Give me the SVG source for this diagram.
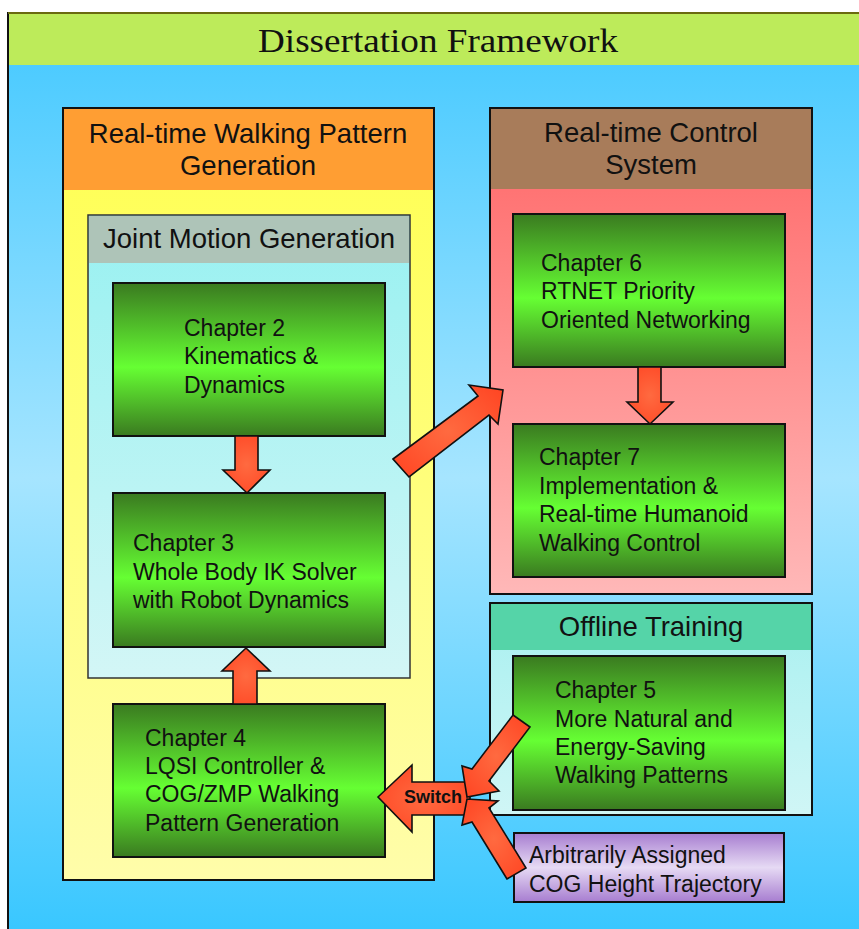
<svg xmlns="http://www.w3.org/2000/svg" width="859" height="929" viewBox="0 0 859 929">
<defs>
<linearGradient id="bg" x1="0" y1="0" x2="0" y2="1">
<stop offset="0" stop-color="#42C8FF"/>
<stop offset="0.5" stop-color="#A6E5FF"/>
<stop offset="1" stop-color="#36C6FF"/>
</linearGradient>
<linearGradient id="yel" x1="0" y1="0" x2="0" y2="1">
<stop offset="0" stop-color="#FFFF50"/>
<stop offset="1" stop-color="#FFFDAA"/>
</linearGradient>
<linearGradient id="red" x1="0" y1="0" x2="0" y2="1">
<stop offset="0" stop-color="#FF6666"/>
<stop offset="1" stop-color="#FFB8B8"/>
</linearGradient>
<linearGradient id="cyan" x1="0" y1="0" x2="0" y2="1">
<stop offset="0" stop-color="#98F1F1"/>
<stop offset="1" stop-color="#D3F6F6"/>
</linearGradient>
<linearGradient id="cyan2" x1="0" y1="0" x2="0" y2="1">
<stop offset="0" stop-color="#A8F0F0"/>
<stop offset="1" stop-color="#D0F6F6"/>
</linearGradient>
<linearGradient id="grn" x1="0" y1="0" x2="0" y2="1">
<stop offset="0" stop-color="#3A7A20"/>
<stop offset="0.55" stop-color="#66FF33"/>
<stop offset="1" stop-color="#3A7A20"/>
</linearGradient>
<linearGradient id="pur" x1="0" y1="0" x2="0" y2="1">
<stop offset="0" stop-color="#A77DD0"/>
<stop offset="0.5" stop-color="#E6DAF4"/>
<stop offset="1" stop-color="#A77DD0"/>
</linearGradient>
<radialGradient id="arr" cx="0.5" cy="0.5" r="0.7">
<stop offset="0" stop-color="#FF6A40"/>
<stop offset="1" stop-color="#FF4422"/>
</radialGradient>
<style>
.hd{font-family:"Liberation Sans",Arial,sans-serif;font-size:27.5px;fill:#111;text-anchor:middle}
.tx{font-family:"Liberation Sans",Arial,sans-serif;font-size:23px;fill:#111}
.box{stroke:#111;stroke-width:2}
.ch{fill:url(#grn);stroke:#111;stroke-width:2}
.ar{fill:url(#arr);stroke:#111;stroke-width:1.6;stroke-linejoin:miter}
</style>
</defs>
<rect x="0" y="0" width="859" height="929" fill="#fff"/>
<g id="frame">
<rect x="8" y="13" width="860" height="930" fill="url(#bg)" stroke="#111" stroke-width="2"/>
<rect x="9" y="14" width="850" height="51" fill="#BDEB5A"/>
<line x1="8" y1="13" x2="859" y2="13" stroke="#6A6A10" stroke-width="2"/>
<text x="438" y="52" font-family="'Liberation Serif',serif" font-size="34" fill="#111" text-anchor="middle" textLength="360" lengthAdjust="spacingAndGlyphs">Dissertation Framework</text>
</g>
<g id="walking-pattern">
<rect x="63" y="108" width="371" height="772" fill="url(#yel)" class="box"/>
<rect x="64" y="109" width="369" height="81" fill="#FF9E33"/>
<text class="hd" x="248" y="143">Real-time Walking Pattern</text>
<text class="hd" x="248" y="175">Generation</text>
</g>
<g id="joint-motion">
<rect x="88" y="215" width="322" height="463" fill="url(#cyan)" stroke="#333" stroke-width="1.5"/>
<rect x="89" y="216" width="320" height="47" fill="#AEC4B8"/>
<text class="hd" x="249" y="248">Joint Motion Generation</text>
</g>
<g id="control-system">
<rect x="490" y="108" width="322" height="486" fill="url(#red)" class="box"/>
<rect x="491" y="109" width="320" height="80" fill="#A87C5A"/>
<text class="hd" x="651" y="142">Real-time Control</text>
<text class="hd" x="651" y="174">System</text>
</g>
<g id="offline-training">
<rect x="490" y="603" width="322" height="212" fill="url(#cyan2)" class="box"/>
<rect x="491" y="604" width="320" height="46" fill="#55D4A8"/>
<text class="hd" x="651" y="636">Offline Training</text>
</g>
<g id="ch2">
<rect class="ch" x="113" y="283" width="272" height="153"/>
<text class="tx" x="184" y="336">Chapter 2</text>
<text class="tx" x="184" y="364">Kinematics &amp;</text>
<text class="tx" x="184" y="393">Dynamics</text>
</g>
<g id="ch3">
<rect class="ch" x="113" y="493" width="272" height="154"/>
<text class="tx" x="133" y="551">Chapter 3</text>
<text class="tx" x="133" y="580">Whole Body IK Solver</text>
<text class="tx" x="133" y="608">with Robot Dynamics</text>
</g>
<g id="ch4">
<rect class="ch" x="113" y="704" width="272" height="153"/>
<text class="tx" x="145" y="746">Chapter 4</text>
<text class="tx" x="145" y="774">LQSI Controller &amp;</text>
<text class="tx" x="145" y="802">COG/ZMP Walking</text>
<text class="tx" x="145" y="831">Pattern Generation</text>
</g>
<g id="ch6">
<rect class="ch" x="513" y="214" width="272" height="153"/>
<text class="tx" x="541" y="271">Chapter 6</text>
<text class="tx" x="541" y="299">RTNET Priority</text>
<text class="tx" x="541" y="328">Oriented Networking</text>
</g>
<g id="ch7">
<rect class="ch" x="513" y="424" width="272" height="153"/>
<text class="tx" x="539" y="465">Chapter 7</text>
<text class="tx" x="539" y="494">Implementation &amp;</text>
<text class="tx" x="539" y="522">Real-time Humanoid</text>
<text class="tx" x="539" y="551">Walking Control</text>
</g>
<g id="ch5">
<rect class="ch" x="513" y="656" width="272" height="154"/>
<text class="tx" x="555" y="698">Chapter 5</text>
<text class="tx" x="555" y="727">More Natural and</text>
<text class="tx" x="555" y="755">Energy-Saving</text>
<text class="tx" x="555" y="783">Walking Patterns</text>
</g>
<g id="cog-height">
<rect x="514" y="833" width="270" height="69" fill="url(#pur)" class="box"/>
<text class="tx" x="529" y="863">Arbitrarily Assigned</text>
<text class="tx" x="529" y="892">COG Height Trajectory</text>
</g>
<g id="connectors">
<polygon class="ar" points="235,436 258,436 258,470 270,470 247,493 223,470 235,470"/>
<polygon class="ar" points="638,367 661,367 661,402 673,402 650,424 627,402 638,402"/>
<polygon class="ar" points="233,704 257,704 257,671 270,671 246,648 222,671 233,671"/>
<polygon class="ar" points="393,459 478,396 469,385 503,390 498,424 489,415 409,477"/>
<polygon class="ar" points="378,797 412,765 412,782 470,782 470,815 412,815 412,832"/>
<polygon class="ar" points="513,715 530,727 489,781 499,791 467,797 462,766 472,769"/>
<polygon class="ar" points="507,879 472,822 462,825 467,799 498,801 489,808 526,868"/>
<text x="433" y="803" font-family="'Liberation Sans',Arial,sans-serif" font-size="18" font-weight="bold" fill="#111" text-anchor="middle">Switch</text>
</g>
</svg>
